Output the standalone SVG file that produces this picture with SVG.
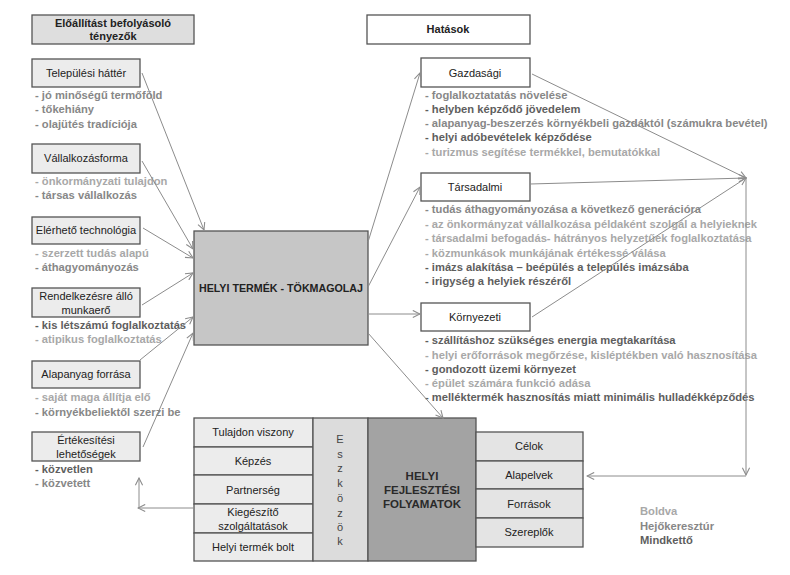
<svg xmlns="http://www.w3.org/2000/svg" width="790" height="575" viewBox="0 0 790 575">
<defs>
<marker id="arr" viewBox="0 0 10 10" refX="9" refY="5" markerWidth="9" markerHeight="9" markerUnits="userSpaceOnUse" orient="auto">
<path d="M1,1 L9,5 L1,9" fill="none" stroke="#8c8c8c" stroke-width="1.2"/>
</marker>
</defs>
<style>
text{font-family:"Liberation Sans",Arial,sans-serif;}
.box{stroke:#555;stroke-width:1.3;}
.lb{font-size:11px;fill:#222;text-anchor:middle;}
.hd{font-size:11px;font-weight:bold;fill:#222;text-anchor:middle;}
.li{font-size:11.2px;font-weight:bold;}
.B{fill:#a8a8a8;}
.H{fill:#878787;}
.M{fill:#5e5e5e;}
.c{fill:none;stroke:#8c8c8c;stroke-width:1;marker-end:url(#arr);}
</style>
<rect width="790" height="575" fill="#fff"/>

<g id="hdr-left">
<rect class="box" x="32" y="15" width="162" height="29" fill="#dedede"/>
<text class="hd" x="113" y="27">Előállítást befolyásoló</text>
<text class="hd" x="113" y="40">tényezők</text>
</g>
<g id="hdr-right">
<rect class="box" x="367" y="15" width="163" height="29" fill="#fff"/>
<text class="hd" x="448" y="33">Hatások</text>
</g>

<g id="telepulesi">
<rect class="box" x="32" y="59" width="108" height="28" fill="#ececec"/>
<text class="lb" x="86" y="77">Települési háttér</text>
<text class="li" x="35" y="99"><tspan class="H">- jó minőségű termőföld</tspan></text>
<text class="li" x="35" y="113"><tspan class="H">- tőkehiány</tspan></text>
<text class="li" x="35" y="128"><tspan class="H">- olajütés tradíciója</tspan></text>
</g>
<g id="vallalkozas">
<rect class="box" x="32" y="144" width="108" height="29" fill="#ececec"/>
<text class="lb" x="86" y="162">Vállalkozásforma</text>
<text class="li" x="35" y="185"><tspan class="B">- önkormányzati tulajdon</tspan></text>
<text class="li" x="35" y="199"><tspan class="H">- társas vállalkozás</tspan></text>
</g>
<g id="technologia">
<rect class="box" x="32" y="217" width="108" height="27" fill="#ececec"/>
<text class="lb" x="86" y="234">Elérhető technológia</text>
<text class="li" x="35" y="257"><tspan class="B">- szerzett tudás alapú</tspan></text>
<text class="li" x="35" y="271"><tspan class="H">- áthagyományozás</tspan></text>
</g>
<g id="munkaero">
<rect class="box" x="32" y="288" width="108" height="29" fill="#ececec"/>
<text class="lb" x="86" y="300">Rendelkezésre álló</text>
<text class="lb" x="86" y="314">munkaerő</text>
<text class="li" x="35" y="329"><tspan class="M">- kis létszámú foglalkoztatás</tspan></text>
<text class="li" x="35" y="343"><tspan class="B">- atipikus foglalkoztatás</tspan></text>
</g>
<g id="alapanyag">
<rect class="box" x="32" y="361" width="108" height="27" fill="#ececec"/>
<text class="lb" x="86" y="378">Alapanyag forrása</text>
<text class="li" x="35" y="401"><tspan class="B">- saját maga állítja elő</tspan></text>
<text class="li" x="35" y="416"><tspan class="H">- környékbeliektől szerzi be</tspan></text>
</g>
<g id="ertekesites">
<rect class="box" x="32" y="432" width="108" height="29" fill="#ececec"/>
<text class="lb" x="86" y="444">Értékesítési</text>
<text class="lb" x="86" y="458">lehetőségek</text>
<text class="li" x="35" y="473"><tspan class="M">- közvetlen</tspan></text>
<text class="li" x="35" y="487"><tspan class="H">- közvetett</tspan></text>
</g>

<g id="helyi-termek">
<rect class="box" x="194" y="231" width="174" height="114" fill="#c6c6c6"/>
<text x="281" y="292" style="font-size:10.7px;font-weight:bold;fill:#222;text-anchor:middle">HELYI TERMÉK - TÖKMAGOLAJ</text>
</g>

<g id="gazdasagi">
<rect class="box" x="421" y="58" width="109" height="29" fill="#fff"/>
<text class="lb" x="475" y="77">Gazdasági</text>
<text class="li" x="425" y="99"><tspan class="H">-  foglalkoztatatás növelése</tspan></text>
<text class="li" x="425" y="113"><tspan class="M">-  helyben képződő jövedelem</tspan></text>
<text class="li" x="425" y="127"><tspan class="H">-  alapanyag-beszerzés környékbeli gazdáktól (számukra bevétel)</tspan></text>
<text class="li" x="425" y="141"><tspan class="M">-  helyi adóbevételek képződése</tspan></text>
<text class="li" x="425" y="156"><tspan class="B">-  turizmus segítése termékkel, bemutatókkal</tspan></text>
</g>
<g id="tarsadalmi">
<rect class="box" x="421" y="173" width="109" height="28" fill="#fff"/>
<text class="lb" x="475" y="191">Társadalmi</text>
<text class="li" x="425" y="213"><tspan class="H">- tudás áthagyományozása a következő generációra</tspan></text>
<text class="li" x="425" y="228"><tspan class="B">- az önkormányzat vállalkozása példaként szolgál a helyieknek</tspan></text>
<text class="li" x="425" y="242"><tspan class="B">- társadalmi befogadás- hátrányos helyzetűek foglalkoztatása</tspan></text>
<text class="li" x="425" y="257"><tspan class="B">- közmunkások munkájának értékessé válása</tspan></text>
<text class="li" x="425" y="271"><tspan class="M">- imázs alakítása – beépülés a település imázsába</tspan></text>
<text class="li" x="425" y="285"><tspan class="M">- irigység a helyiek részéről</tspan></text>
</g>
<g id="kornyezeti">
<rect class="box" x="421" y="303" width="109" height="28" fill="#fff"/>
<text class="lb" x="475" y="321">Környezeti</text>
<text class="li" x="425" y="344"><tspan class="M">-  szállításhoz szükséges energia megtakarítása</tspan></text>
<text class="li" x="425" y="359"><tspan class="B">-  helyi erőforrások megőrzése, kisléptékben való hasznosítása</tspan></text>
<text class="li" x="425" y="373"><tspan class="M">- gondozott üzemi környezet</tspan></text>
<text class="li" x="425" y="387"><tspan class="B">- épület számára funkció adása</tspan></text>
<text class="li" x="425" y="401"><tspan class="M">- melléktermék hasznosítás miatt minimális hulladékképződés</tspan></text>
</g>

<g id="eszkozok-table">
<rect class="box" x="194" y="418" width="119" height="29" fill="#ececec"/>
<rect class="box" x="194" y="447" width="119" height="28" fill="#ececec"/>
<rect class="box" x="194" y="475" width="119" height="29" fill="#ececec"/>
<rect class="box" x="194" y="504" width="119" height="29" fill="#ececec"/>
<rect class="box" x="194" y="533" width="119" height="28" fill="#ececec"/>
<text class="lb" x="253" y="436">Tulajdon viszony</text>
<text class="lb" x="253" y="465">Képzés</text>
<text class="lb" x="253" y="494">Partnerség</text>
<text class="lb" x="253" y="516">Kiegészítő</text>
<text class="lb" x="253" y="530">szolgáltatások</text>
<text class="lb" x="253" y="551">Helyi termék bolt</text>
</g>
<g id="eszkozok">
<rect class="box" x="313" y="418" width="55" height="143" fill="#dcdcdc"/>
<text class="lb" x="340" y="443" style="fill:#444">E</text>
<text class="lb" x="340" y="458" style="fill:#444">s</text>
<text class="lb" x="340" y="472" style="fill:#444">z</text>
<text class="lb" x="340" y="487" style="fill:#444">k</text>
<text class="lb" x="340" y="502" style="fill:#444">ö</text>
<text class="lb" x="340" y="517" style="fill:#444">z</text>
<text class="lb" x="340" y="531" style="fill:#444">ö</text>
<text class="lb" x="340" y="545" style="fill:#444">k</text>
</g>
<g id="fejlesztesi">
<rect class="box" x="368" y="418" width="108" height="143" fill="#a3a3a3"/>
<text class="hd" x="422" y="480" style="fill:#2a2a2a;font-size:11.5px">HELYI</text>
<text class="hd" x="422" y="494" style="fill:#2a2a2a;font-size:11.5px">FEJLESZTÉSI</text>
<text class="hd" x="422" y="508" style="fill:#2a2a2a;font-size:11.5px">FOLYAMATOK</text>
</g>
<g id="celok-table">
<rect class="box" x="476" y="432" width="107" height="29" fill="#e4e4e4"/>
<rect class="box" x="476" y="461" width="107" height="28" fill="#e4e4e4"/>
<rect class="box" x="476" y="489" width="107" height="29" fill="#e4e4e4"/>
<rect class="box" x="476" y="518" width="107" height="29" fill="#e4e4e4"/>
<text class="lb" x="529" y="450">Célok</text>
<text class="lb" x="529" y="479">Alapelvek</text>
<text class="lb" x="529" y="508">Források</text>
<text class="lb" x="529" y="536">Szereplők</text>
</g>

<g id="legend">
<text class="li" x="640" y="515"><tspan class="B">Boldva</tspan></text>
<text class="li" x="640" y="530"><tspan class="H">Hejőkeresztúr</tspan></text>
<text class="li" x="640" y="544"><tspan class="M">Mindkettő</tspan></text>
</g>

<g id="connectors">
<path class="c" d="M142,73 L204,230"/>
<path class="c" d="M142,161 L193,249"/>
<path class="c" d="M143,228 L193,258"/>
<path class="c" d="M142,305 L193,273"/>
<path class="c" d="M140,360 L193,317"/>
<path class="c" d="M143,447 L193,333"/>
<path class="c" d="M368,242 L420,73"/>
<path class="c" d="M368,287 L420,187"/>
<path class="c" d="M369,314 L420,314"/>
<path class="c" d="M368,333 L443,418"/>
<path class="c" d="M532,74 L746,178"/>
<path class="c" d="M530,184 L746,178"/>
<path class="c" d="M532,317 L746,178"/>
<path class="c" d="M746,178 L746,475"/>
<path class="c" d="M746,476 L587,476"/>
<path class="c" d="M194,508 L138,508"/>
<path class="c" d="M139,508 L139,478"/>
</g>
</svg>
